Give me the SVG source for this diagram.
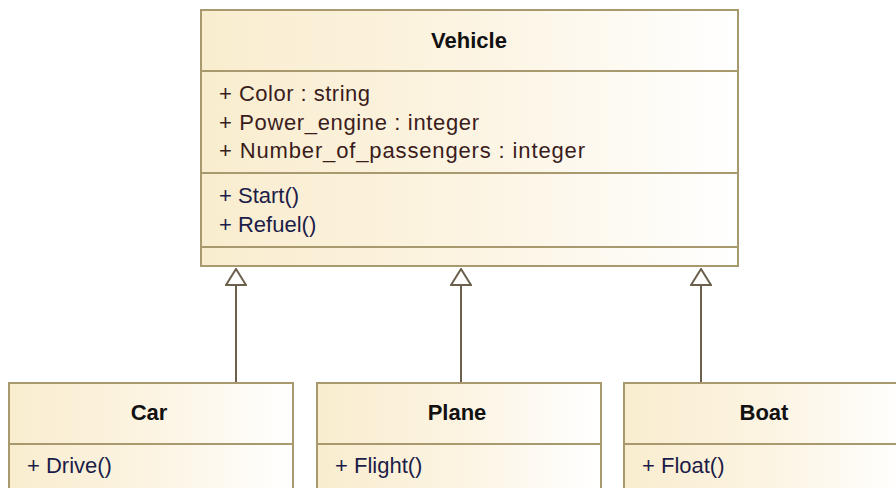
<svg xmlns="http://www.w3.org/2000/svg" width="896" height="488" viewBox="0 0 896 488">
  <style>
    .box { fill: url(#classFill); stroke: #a8996f; stroke-width: 2; }
    .sep { stroke: #a8996f; stroke-width: 2; }
    .name { font-family: "Liberation Sans", Arial, sans-serif; font-size: 22px; font-weight: bold; fill: #111111; text-anchor: middle; }
    .attr { font-family: "Liberation Sans", Arial, sans-serif; font-size: 22px; fill: #3a1c1c; }
    .op { font-family: "Liberation Sans", Arial, sans-serif; font-size: 22px; fill: #1c1c48; }
    .gen { stroke: #6b604c; stroke-width: 2; fill: none; marker-end: url(#hollowTri); }
  </style>
  <defs>
    <linearGradient id="classFill" x1="0" y1="0" x2="1" y2="0">
      <stop offset="0" stop-color="#f9edcf"/>
      <stop offset="0.5" stop-color="#fcf4e2"/>
      <stop offset="1" stop-color="#ffffff"/>
    </linearGradient>
    <marker id="hollowTri" viewBox="0 0 18 22" refX="17" refY="11" markerWidth="18" markerHeight="22" markerUnits="userSpaceOnUse" orient="auto">
      <path d="M1,1 L17,11 L1,21 Z" fill="#ffffff" stroke="#6b604c" stroke-width="2" stroke-linejoin="miter"/>
    </marker>
  </defs>
  <rect width="896" height="488" fill="#ffffff"/>

  <!-- generalization connectors -->
  <g id="connectors">
    <path class="gen" d="M236,383 L236,269"/>
    <path class="gen" d="M461,383 L461,269"/>
    <path class="gen" d="M701,383 L701,269"/>
  </g>

  <g id="vehicle">
    <rect class="box" x="201" y="10" width="537" height="256"/>
    <line class="sep" x1="201" y1="71" x2="738" y2="71"/>
    <line class="sep" x1="201" y1="173" x2="738" y2="173"/>
    <line class="sep" x1="201" y1="247" x2="738" y2="247"/>
    <text class="name" x="469" y="48">Vehicle</text>
    <text class="attr" x="219" y="101" textLength="151" lengthAdjust="spacing">+ Color : string</text>
    <text class="attr" x="219" y="129.5" textLength="260" lengthAdjust="spacing">+ Power_engine : integer</text>
    <text class="attr" x="219" y="158" textLength="366" lengthAdjust="spacing">+ Number_of_passengers : integer</text>
    <text class="op" x="219" y="203">+ Start()</text>
    <text class="op" x="219" y="231.5">+ Refuel()</text>
  </g>

  <g id="car">
    <rect class="box" x="9" y="383" width="284" height="130"/>
    <line class="sep" x1="9" y1="444" x2="293" y2="444"/>
    <text class="name" x="149" y="420">Car</text>
    <text class="op" x="27" y="473">+ Drive()</text>
  </g>

  <g id="plane">
    <rect class="box" x="317" y="383" width="284" height="130"/>
    <line class="sep" x1="317" y1="444" x2="601" y2="444"/>
    <text class="name" x="457" y="420">Plane</text>
    <text class="op" x="335" y="473">+ Flight()</text>
  </g>

  <g id="boat">
    <rect class="box" x="624" y="383" width="284" height="130"/>
    <line class="sep" x1="624" y1="444" x2="908" y2="444"/>
    <text class="name" x="764" y="420">Boat</text>
    <text class="op" x="642" y="473">+ Float()</text>
  </g>
</svg>
